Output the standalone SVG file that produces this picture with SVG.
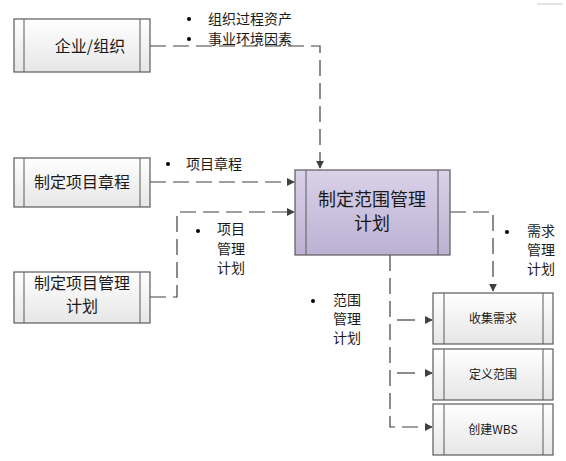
<svg xmlns="http://www.w3.org/2000/svg" width="566" height="461" viewBox="0 0 566 461">
<defs>
<linearGradient id="g" x1="0" y1="0" x2="0" y2="1"><stop offset="0" stop-color="#ffffff"/><stop offset="1" stop-color="#e6e6e6"/></linearGradient>
<linearGradient id="p" x1="0" y1="0" x2="0" y2="1"><stop offset="0" stop-color="#d9d2e8"/><stop offset="1" stop-color="#bcb1d3"/></linearGradient>
<marker id="a" viewBox="0 0 10 10" refX="9" refY="5" markerWidth="8" markerHeight="8" markerUnits="userSpaceOnUse" orient="auto"><path d="M0,0 L10,5 L0,10 z" fill="#404040"/></marker>
<style>
.box{fill:url(#g);stroke:#5a5a5a;stroke-width:1.2}
.pbox{fill:url(#p);stroke:#5a5a5a;stroke-width:1.2}
.in{stroke:#5a5a5a;stroke-width:1}
.c{fill:none;stroke:#404040;stroke-width:1.2;stroke-dasharray:16 7}
.s{fill:none;stroke:#404040;stroke-width:1.2}
.t{font-family:"Noto Sans CJK SC","Noto Sans",sans-serif;fill:#1a1a1a}
.l{font-size:14px}
</style>
</defs>
<line x1="537" y1="4" x2="563" y2="4" stroke="#c8c8c8" stroke-width="1"/>
<g id="connectors">
<path class="c" d="M150,46 H320 V168" marker-end="url(#a)"/>
<path class="c" d="M150,182 H294" marker-end="url(#a)"/>
<path class="c" d="M150,297 H177 V212 H294" marker-end="url(#a)"/>
<path class="c" d="M450,212 H493 V291" marker-end="url(#a)"/>
<path class="c" d="M390,255 V427 H432" marker-end="url(#a)"/>
<path class="s" d="M397,320 H415"/>
<path class="s" d="M425,320 H432" marker-end="url(#a)"/>
<path class="s" d="M397,373 H415"/>
<path class="s" d="M425,373 H432" marker-end="url(#a)"/>
</g>
<g id="labels" class="t l">
<circle cx="189" cy="19" r="2" fill="#000"/><text x="208" y="24">组织过程资产</text>
<circle cx="189" cy="39" r="2" fill="#000"/><text x="208" y="44">事业环境因素</text>
<circle cx="168" cy="164" r="2" fill="#000"/><text x="186" y="169">项目章程</text>
<circle cx="198" cy="231" r="2" fill="#000"/><text x="217" y="234">项目<tspan x="217" dy="19.5">管理</tspan><tspan x="217" dy="19.5">计划</tspan></text>
<circle cx="507" cy="232" r="2" fill="#000"/><text x="527" y="236">需求<tspan x="527" dy="19">管理</tspan><tspan x="527" dy="19">计划</tspan></text>
<circle cx="313" cy="301" r="2" fill="#000"/><text x="333" y="305">范围<tspan x="333" dy="19">管理</tspan><tspan x="333" dy="19">计划</tspan></text>
</g>
<g id="n1"><rect class="box" x="14" y="19" width="136" height="53"/><line class="in" x1="24" y1="19" x2="24" y2="72"/><line class="in" x1="140" y1="19" x2="140" y2="72"/><text class="t" x="90" y="52" font-size="16" text-anchor="middle">企业/组织</text></g>
<g id="n2"><rect class="box" x="14" y="158" width="136" height="49"/><line class="in" x1="24" y1="158" x2="24" y2="207"/><line class="in" x1="140" y1="158" x2="140" y2="207"/><text class="t" x="82" y="188" font-size="16" text-anchor="middle">制定项目章程</text></g>
<g id="n3"><rect class="box" x="14" y="272" width="136" height="51"/><line class="in" x1="24" y1="272" x2="24" y2="323"/><line class="in" x1="140" y1="272" x2="140" y2="323"/><text class="t" x="82" y="289" font-size="16" text-anchor="middle">制定项目管理<tspan x="82" dy="22.5">计划</tspan></text></g>
<g id="n4"><rect class="pbox" x="295" y="170" width="155" height="85"/><line class="in" x1="306" y1="170" x2="306" y2="255"/><line class="in" x1="438" y1="170" x2="438" y2="255"/><text class="t" x="372" y="206" font-size="18" text-anchor="middle">制定范围管理<tspan x="372" dy="24">计划</tspan></text></g>
<g id="n5"><rect class="box" x="433" y="293" width="120" height="51"/><line class="in" x1="444" y1="293" x2="444" y2="344"/><line class="in" x1="543" y1="293" x2="543" y2="344"/><text class="t" x="493" y="323" font-size="12" text-anchor="middle">收集需求</text></g>
<g id="n6"><rect class="box" x="433" y="349" width="120" height="51"/><line class="in" x1="444" y1="349" x2="444" y2="400"/><line class="in" x1="543" y1="349" x2="543" y2="400"/><text class="t" x="493" y="379" font-size="12" text-anchor="middle">定义范围</text></g>
<g id="n7"><rect class="box" x="433" y="404" width="120" height="51"/><line class="in" x1="444" y1="404" x2="444" y2="455"/><line class="in" x1="543" y1="404" x2="543" y2="455"/><text class="t" x="493" y="434" font-size="12" text-anchor="middle">创建WBS</text></g>
</svg>
